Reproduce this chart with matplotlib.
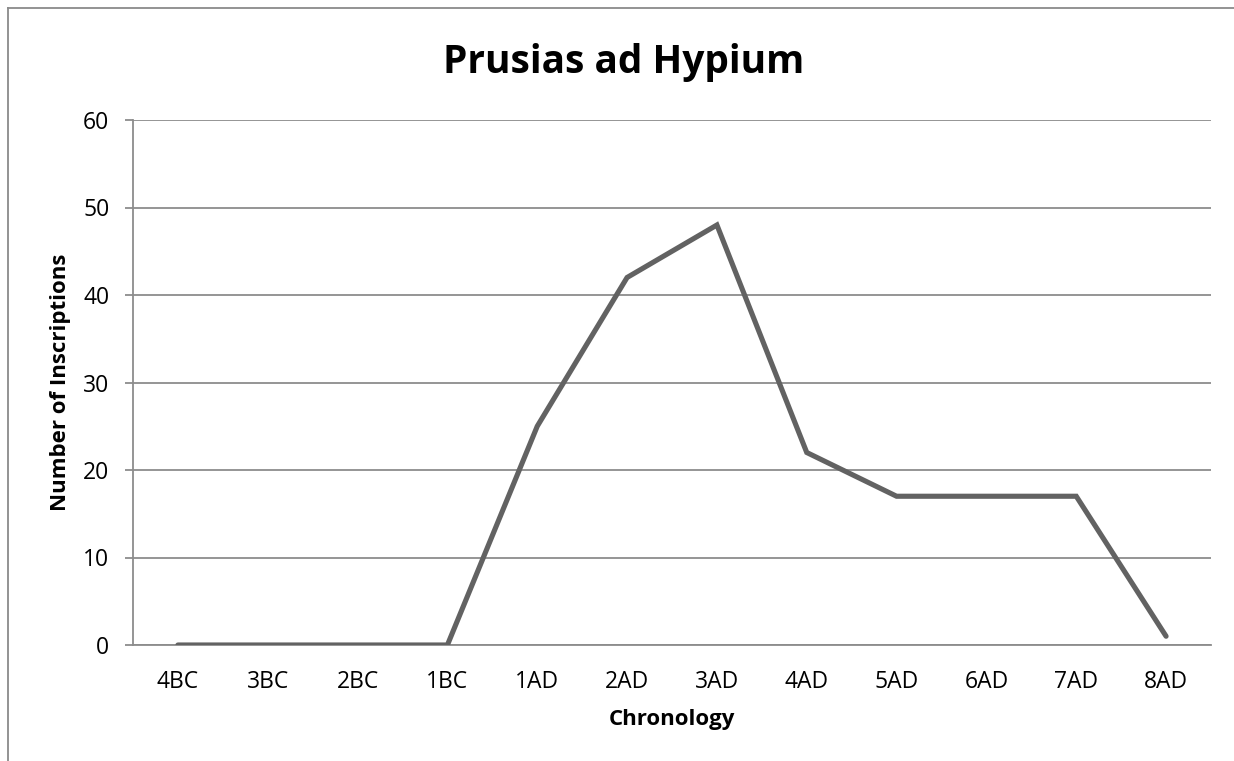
import matplotlib.pyplot as plt
from matplotlib.lines import Line2D

# data
centuries = ["4BC", "3BC", "2BC", "1BC", "1AD", "2AD", "3AD", "4AD", "5AD", "6AD", "7AD", "8AD"]
inscriptions = [0, 0, 0, 0, 25, 42, 48, 22, 17, 17, 17, 1]
y_ticks = [0, 10, 20, 30, 40, 50, 60]

plt.rcParams['font.family'] = ['Open Sans', 'DejaVu Sans']

W, H = 1234, 761
fig = plt.figure(figsize=(W / 100, H / 100), dpi=100)
ax = fig.add_axes([133 / W, 1 - 645 / H, (1211 - 133) / W, (645 - 120) / H])

grid_col = '#8c8c8c'
x = range(len(centuries))
ax.plot(x, inscriptions, color='#626262', lw=3.7, solid_capstyle='round',
        solid_joinstyle='miter', zorder=3)

ax.set_xlim(-0.5, len(centuries) - 0.5)
ax.set_ylim(0, 60)
ax.set_yticks(y_ticks)
ax.set_xticks(list(x))
ax.set_xticklabels(centuries)
ax.yaxis.grid(True, color=grid_col, lw=1.3)
ax.set_axisbelow(True)

for s in ['top', 'right']:
    ax.spines[s].set_visible(False)
ax.spines['left'].set_color(grid_col)
ax.spines['left'].set_linewidth(1.3)
ax.spines['bottom'].set_color(grid_col)
ax.spines['bottom'].set_linewidth(1.3)
ax.tick_params(axis='y', length=6, width=1.3, color=grid_col, pad=11, labelsize=16.5)
ax.tick_params(axis='x', length=0, pad=18, labelsize=16.5)

ax.set_xlabel("Chronology", fontsize=16, fontweight='bold', labelpad=11)
ax.set_ylabel("Number of Inscriptions", fontsize=16, fontweight='bold', labelpad=9)
fig.text(624 / W, 1 - 73 / H, "Prusias ad Hypium", ha='center', va='baseline',
         fontsize=28, fontweight='bold')

# outer chart border (only left and top edges visible)
fig.add_artist(Line2D([8 / W, 8 / W], [0, 1 - 8 / H], transform=fig.transFigure,
                      color='#8a8a8a', lw=1.3))
fig.add_artist(Line2D([8 / W, 1], [1 - 8 / H, 1 - 8 / H], transform=fig.transFigure,
                      color='#8a8a8a', lw=1.3))

fig.savefig("out.png", dpi=100)
